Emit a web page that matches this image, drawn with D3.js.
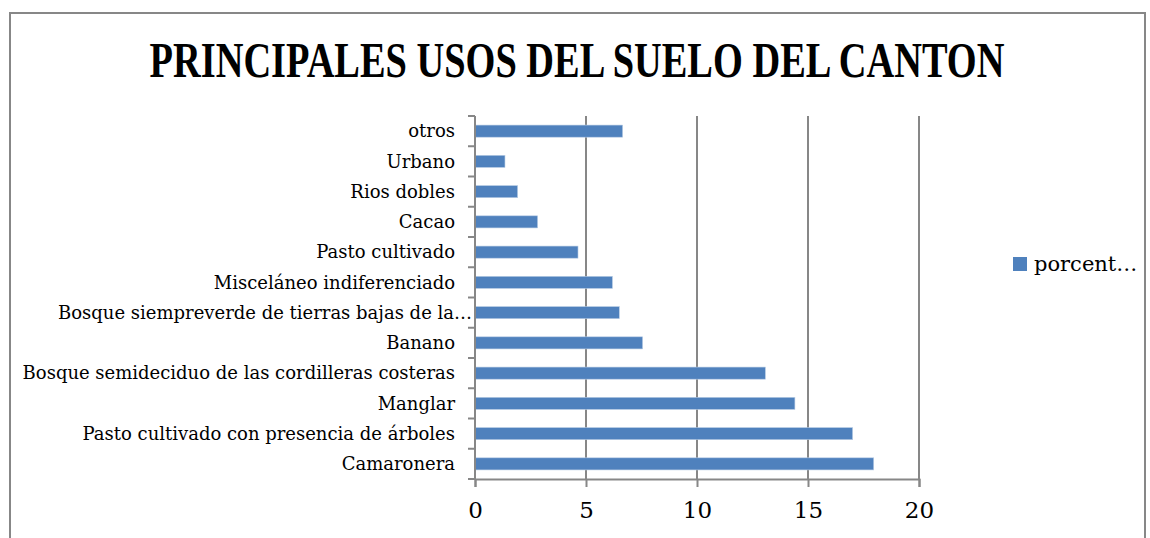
<!DOCTYPE html>
<html>
<head>
<meta charset="utf-8">
<script src="https://cdn.jsdelivr.net/npm/d3@7"></script>
<style>
  html, body { margin: 0; padding: 0; background: #fff; }
  svg { display: block; }
</style>
</head>
<body>
<svg id="chart" width="1150" height="538"></svg>
<script>
// ---- data (bottom to top, as in the reference) ----
const categories = [
  "Camaronera",
  "Pasto cultivado con presencia de árboles",
  "Manglar",
  "Bosque semideciduo de las cordilleras costeras",
  "Banano",
  "Bosque siempreverde de tierras bajas de la…",
  "Misceláneo indiferenciado",
  "Pasto cultivado",
  "Cacao",
  "Rios dobles",
  "Urbano",
  "otros"
];
const values = [17.96, 17.01, 14.41, 13.08, 7.55, 6.5, 6.19, 4.64, 2.82, 1.92, 1.35, 6.65];
const xTicks = [0, 5, 10, 15, 20];
const seriesName = "porcent…";
const title = "PRINCIPALES USOS DEL SUELO DEL CANTON";

// ---- layout ----
const svg = d3.select("#chart");
const plot = { left: 475, right: 919, top: 116, bottom: 479 };
const gray = "#878787";
const barColor = "#4f81bd";
const serif = "'DejaVu Serif', serif";

// frame
svg.append("rect")
  .attr("x", 10).attr("y", 13)
  .attr("width", 1135).attr("height", 560)
  .attr("fill", "#fff")
  .attr("stroke", gray).attr("stroke-width", 2);

// title (condensed horizontally to the reference width)
const titleG = svg.append("g");
const titleT = titleG.append("text")
  .attr("x", 0).attr("y", 0)
  .attr("text-anchor", "middle")
  .attr("font-family", "'Liberation Serif', serif")
  .attr("font-weight", "bold")
  .attr("font-size", 50)
  .attr("fill", "#000")
  .text(title);
const natural = titleT.node().getComputedTextLength();
const sx = Math.min(1, 855 / natural);
titleG.attr("transform", `translate(577,77) scale(${sx},1)`);

const x = d3.scaleLinear().domain([0, 20]).range([plot.left, plot.right]);
const y = d3.scaleBand()
  .domain(categories.slice().reverse())
  .range([plot.top, plot.bottom])
  .paddingInner(0.6).paddingOuter(0.3);

// vertical gridlines
svg.append("g")
  .selectAll("line")
  .data(xTicks.filter(d => d !== 0))
  .join("line")
  .attr("x1", d => x(d)).attr("x2", d => x(d))
  .attr("y1", plot.top).attr("y2", plot.bottom)
  .attr("stroke", gray).attr("stroke-width", 2);

// bars
svg.append("g")
  .selectAll("rect")
  .data(categories.map((c, i) => ({ c, v: values[i] })))
  .join("rect")
  .attr("x", x(0))
  .attr("y", d => y(d.c))
  .attr("width", d => x(d.v) - x(0))
  .attr("height", y.bandwidth())
  .attr("fill", barColor)
  .attr("stroke", "#b9cde5").attr("stroke-width", 0.6);

// x axis
const xAxis = svg.append("g")
  .attr("transform", `translate(0,${plot.bottom})`)
  .call(d3.axisBottom(x).tickValues(xTicks).tickSize(8).tickPadding(15).tickFormat(d3.format("d")));
xAxis.select(".domain").attr("stroke", gray).attr("stroke-width", 2);
xAxis.selectAll(".tick line").attr("stroke", gray).attr("stroke-width", 2);
xAxis.selectAll(".tick text")
  .attr("font-family", serif).attr("font-size", 23).attr("fill", "#000");

// y axis: ticks at band boundaries
const step = (plot.bottom - plot.top) / categories.length;
const yAxisG = svg.append("g");
yAxisG.append("line")
  .attr("x1", plot.left).attr("x2", plot.left)
  .attr("y1", plot.top).attr("y2", plot.bottom)
  .attr("stroke", gray).attr("stroke-width", 2);
yAxisG.selectAll("line.tk")
  .data(d3.range(categories.length + 1))
  .join("line")
  .attr("class", "tk")
  .attr("x1", plot.left - 7).attr("x2", plot.left)
  .attr("y1", d => plot.top + d * step).attr("y2", d => plot.top + d * step)
  .attr("stroke", gray).attr("stroke-width", 2);

// category labels
svg.append("g")
  .selectAll("text")
  .data(categories)
  .join("text")
  .attr("x", d => d.endsWith("…") ? plot.left - 3 : plot.left - 20)
  .attr("y", d => y(d) + y.bandwidth() / 2)
  .attr("dy", "0.35em")
  .attr("text-anchor", "end")
  .attr("font-family", serif)
  .attr("font-size", 18)
  .attr("fill", "#000")
  .text(d => d);

// legend
const lg = svg.append("g").attr("transform", "translate(1013,257)");
lg.append("rect").attr("width", 14).attr("height", 14).attr("fill", barColor);
lg.append("text")
  .attr("x", 21).attr("y", 7).attr("dy", "0.35em")
  .attr("font-family", serif).attr("font-size", 21).attr("fill", "#000")
  .text(seriesName);
</script>
</body>
</html>
